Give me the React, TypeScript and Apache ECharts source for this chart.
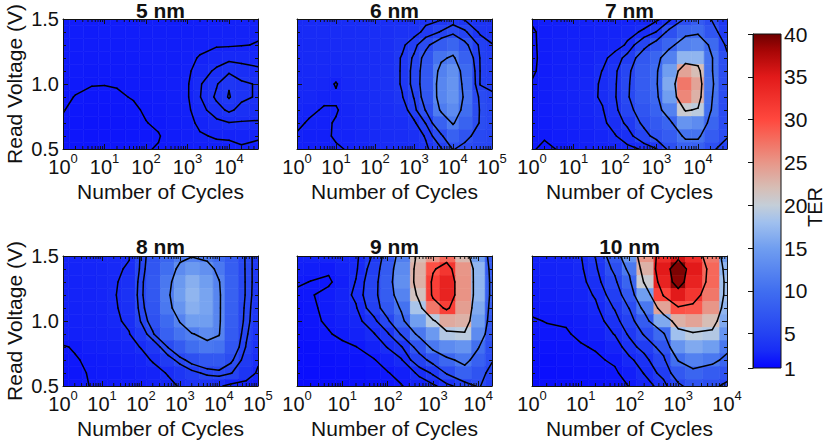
import React, { useEffect, useRef } from 'react';
import * as echarts from 'echarts';

// ---------------- data ----------------
const CYCLES = [1, 2, 5, 10, 20, 50, 100, 200, 500, 1000, 2000, 5000, 10000, 20000, 50000, 100000];
const VOLTAGES = [1.5, 1.4, 1.3, 1.2, 1.1, 1.0, 0.9, 0.8, 0.7, 0.6, 0.5]; // rows, top to bottom
const TITLES = ['5 nm', '6 nm', '7 nm', '8 nm', '9 nm', '10 nm'];
const X_MAX = [50000, 100000, 50000, 100000, 20000, 10000];

const TER_5NM = [
  [2.2, 2.2, 2.2, 2.2, 2.2, 2.2, 2.25, 2.25, 2.25, 2.25, 2.3, 2.35, 2.4, 2.45, 2.4],
  [2.2, 2.2, 2.15, 2.2, 2.2, 2.2, 2.25, 2.25, 2.25, 2.25, 2.3, 2.4, 2.45, 2.48, 2.45],
  [2.15, 2.15, 2.15, 2.15, 2.15, 2.2, 2.2, 2.25, 2.25, 2.3, 2.35, 2.45, 2.45, 2.48, 2.52],
  [2.15, 2.1, 2.1, 2.1, 2.1, 2.15, 2.2, 2.2, 2.25, 2.35, 2.55, 2.75, 2.85, 2.85, 2.8],
  [2.1, 2.1, 2.05, 2.05, 2.08, 2.1, 2.15, 2.2, 2.25, 2.4, 2.75, 3.1, 3.4, 3.2, 3.1],
  [2.05, 2.05, 2.02, 2.01, 2.02, 2.08, 2.1, 2.2, 2.3, 2.45, 2.95, 3.45, 3.95, 3.6, 3.45],
  [2.05, 1.99, 1.9, 1.92, 1.96, 2.02, 2.08, 2.15, 2.3, 2.45, 2.98, 3.6, 4.05, 3.6, 3.45],
  [2.02, 1.9, 1.85, 1.85, 1.9, 1.95, 2.04, 2.1, 2.25, 2.4, 2.8, 3.3, 3.6, 3.35, 3.2],
  [1.95, 1.85, 1.8, 1.8, 1.85, 1.9, 1.99, 2.05, 2.2, 2.35, 2.6, 2.85, 2.98, 2.95, 2.95],
  [1.9, 1.85, 1.8, 1.8, 1.85, 1.88, 1.97, 1.98, 2.15, 2.3, 2.45, 2.55, 2.55, 2.6, 2.55],
  [1.85, 1.8, 1.8, 1.8, 1.85, 1.88, 1.98, 2.02, 2.1, 2.25, 2.3, 2.35, 2.4, 2.45, 2.4],
];
const TER_6NM = [
  [2.9, 2.95, 3.0, 3.0, 3.05, 3.1, 3.2, 3.3, 3.4, 3.5, 3.7, 3.9, 4.2, 3.9, 3.7, 3.6],
  [2.9, 2.95, 2.95, 3.0, 3.0, 3.05, 3.15, 3.3, 3.5, 3.6, 4.3, 5.1, 6.0, 5.2, 3.8, 3.6],
  [2.85, 2.9, 2.9, 2.95, 3.0, 3.05, 3.15, 3.3, 3.8, 4.6, 6.0, 8.0, 9.0, 7.0, 4.7, 4.05],
  [2.85, 2.9, 2.9, 2.9, 2.95, 3.0, 3.1, 3.3, 4.1, 5.2, 7.2, 10.5, 11.5, 8.5, 4.9, 4.5],
  [2.8, 2.85, 2.85, 2.8, 2.9, 3.0, 3.1, 3.4, 4.1, 5.4, 7.5, 12, 13.5, 9.5, 4.95, 4.6],
  [2.8, 2.8, 2.75, 2.45, 2.85, 2.95, 3.1, 3.4, 4.1, 5.4, 7.6, 12.5, 14, 10, 4.9, 4.6],
  [2.75, 2.75, 2.6, 2.6, 2.8, 2.9, 3.05, 3.35, 3.95, 5.05, 7.4, 12.5, 14, 10.5, 6.0, 5.3],
  [2.7, 2.6, 2.45, 2.45, 2.7, 2.85, 3.0, 3.2, 3.5, 4.6, 6.6, 11.5, 13, 10, 6.3, 5.5],
  [2.6, 2.45, 2.4, 2.55, 2.65, 2.8, 2.95, 3.1, 3.2, 3.8, 5.05, 8.5, 11.3, 8.8, 6.3, 5.5],
  [2.45, 2.35, 2.35, 2.6, 2.6, 2.75, 2.9, 3.0, 3.1, 3.4, 4.1, 6.2, 8.5, 7.0, 5.8, 5.3],
  [2.35, 2.3, 2.35, 2.4, 2.55, 2.7, 2.85, 2.95, 3.05, 3.2, 3.8, 4.9, 6.6, 6.0, 5.4, 5.1],
];
const TER_7NM = [
  [2.1, 2.3, 2.35, 2.4, 2.45, 2.5, 2.55, 2.6, 2.7, 2.8, 3.5, 6.2, 8, 6.05, 4],
  [1.9, 2.2, 2.3, 2.35, 2.4, 2.5, 2.6, 2.8, 3.1, 4.05, 6.6, 9.0, 9.5, 7.2, 4.5],
  [1.85, 2.25, 2.35, 2.4, 2.45, 2.55, 2.7, 3.1, 5.3, 7, 9, 12, 12.5, 9.5, 5.5],
  [1.85, 2.2, 2.35, 2.4, 2.55, 2.8, 3.3, 4.5, 7.5, 9, 12, 17, 17, 10.5, 6.5],
  [1.9, 2.2, 2.35, 2.45, 2.6, 3.02, 3.7, 5.5, 8, 9.5, 15, 24, 22, 10.5, 6.5],
  [2.05, 2.25, 2.4, 2.5, 2.7, 3.1, 3.8, 5.7, 8, 9.6, 16, 27, 24, 10.8, 6.5],
  [2.1, 2.25, 2.4, 2.5, 2.75, 3.1, 3.85, 5.8, 7.8, 9.2, 15, 26, 23, 10.5, 6.3],
  [2.1, 2.2, 2.35, 2.45, 2.7, 2.95, 3.6, 5.3, 7.2, 8.6, 12, 20.5, 19.5, 10.2, 6.1],
  [2.05, 2.15, 2.3, 2.4, 2.6, 2.85, 3.3, 4.3, 6.5, 7.6, 9, 14, 13, 9, 6.2],
  [2.05, 2.05, 2.2, 2.3, 2.45, 2.65, 2.95, 3.4, 5.2, 6.8, 8, 10.5, 10.5, 8, 6.2],
  [2.05, 1.9, 2.05, 2.2, 2.35, 2.5, 2.65, 2.8, 3.1, 3.95, 6.5, 8.5, 8.5, 6.5, 5.0],
];
const TER_8NM = [
  [2.6, 2.65, 2.7, 2.75, 2.85, 2.95, 5.2, 7, 9, 11, 11.8, 11, 9.5, 8, 5.8, 4.2],
  [2.55, 2.6, 2.65, 2.7, 2.85, 3.1, 5.3, 7.3, 10, 13, 14.5, 13.5, 11, 8.2, 5.8, 4.2],
  [2.5, 2.55, 2.6, 2.7, 2.85, 3.4, 5.6, 7.6, 11, 14.5, 16.5, 15, 12.2, 8.5, 5.8, 4.2],
  [2.45, 2.5, 2.55, 2.65, 2.9, 3.5, 5.7, 7.5, 11.5, 15, 17, 15.5, 12.5, 8.5, 5.8, 4.1],
  [2.4, 2.45, 2.5, 2.6, 2.85, 3.4, 5.5, 7.2, 11, 14, 16.5, 15.5, 12.5, 8.4, 5.6, 4.0],
  [2.35, 2.4, 2.45, 2.55, 2.8, 3.2, 5.1, 6.7, 9.5, 12.2, 15, 15, 12.5, 8.2, 5.5, 3.9],
  [2.3, 2.35, 2.4, 2.45, 2.6, 2.95, 4.2, 5.8, 8.5, 10.5, 11.8, 13, 12.2, 7.8, 5.2, 3.7],
  [1.95, 2.05, 2.3, 2.35, 2.45, 2.65, 3.05, 4.0, 6.1, 7.8, 10, 11, 10.5, 7.3, 4.9, 3.5],
  [1.8, 1.95, 2.1, 2.15, 2.25, 2.4, 2.6, 3.1, 4.4, 5.5, 6.6, 7.5, 7.5, 6.3, 4.4, 3.2],
  [1.7, 1.85, 2.05, 2.1, 2.15, 2.25, 2.4, 2.55, 3.1, 3.9, 4.6, 5.3, 5.6, 5.1, 3.8, 2.8],
  [1.6, 1.75, 2.02, 2.05, 2.1, 2.15, 2.2, 2.4, 2.7, 3.1, 3.6, 3.6, 3.2, 2.6, 2.45, 2.2],
];
const TER_9NM = [
  [2.4, 2.5, 2.6, 2.75, 2.8, 4.2, 7.2, 11.7, 22, 25, 28, 22.5, 15, 7.5],
  [2.3, 2.25, 2.1, 2.5, 2.85, 4.7, 7.8, 12.9, 23, 29.5, 32, 25, 17, 8],
  [2.1, 1.98, 1.9, 2.3, 3.05, 5.1, 8.2, 13.4, 23, 31, 34, 25.2, 17, 8.5],
  [1.85, 1.95, 2.2, 2.6, 3.2, 5.25, 8.05, 12.2, 21.5, 31, 34, 25.2, 17, 8.5],
  [1.75, 1.9, 2.15, 2.5, 2.9, 4.8, 7.4, 10.4, 18.5, 27, 31, 24.4, 16, 8],
  [1.7, 1.85, 2.1, 2.35, 2.7, 3.6, 5.6, 9.0, 15, 19.3, 23.5, 23, 15, 7.5],
  [1.65, 1.75, 1.95, 2.15, 2.45, 2.95, 3.8, 6.2, 11, 14.5, 19, 19.5, 13, 7],
  [1.55, 1.6, 1.75, 1.85, 1.98, 2.45, 3.05, 3.85, 7.0, 11, 13, 14, 10.2, 6.5],
  [1.5, 1.5, 1.6, 1.7, 1.8, 1.95, 2.4, 2.9, 5.0, 6.8, 9.2, 11, 8.5, 6.2],
  [1.45, 1.45, 1.5, 1.6, 1.7, 1.82, 1.95, 2.3, 3.2, 4.2, 6.2, 8.5, 7.0, 5.2],
  [1.4, 1.4, 1.45, 1.5, 1.6, 1.7, 1.8, 1.95, 2.5, 2.8, 3.5, 4.9, 6.3, 4.5],
];
const TER_10NM = [
  [2.5, 2.6, 2.7, 2.95, 4.05, 7.5, 14, 25, 33, 36, 33, 27, 15],
  [2.4, 2.5, 2.6, 2.85, 3.7, 6.5, 11, 23, 35, 39.5, 35, 28, 17],
  [2.3, 2.4, 2.5, 2.75, 3.4, 5.5, 9, 20.5, 34, 39, 34, 28, 18],
  [2.2, 2.3, 2.4, 2.6, 3.1, 4.7, 7.5, 15, 30.5, 35, 32, 27, 18],
  [2.1, 2.15, 2.25, 2.4, 2.8, 4.1, 6.1, 11, 24, 29.5, 29, 25, 17],
  [1.95, 2.02, 2.05, 2.25, 2.6, 3.5, 5, 8, 16, 23, 24, 22, 16],
  [1.85, 1.9, 1.95, 2.1, 2.35, 3.05, 4.2, 6.2, 9.5, 18, 19.5, 19, 14],
  [1.7, 1.75, 1.8, 1.95, 2.05, 2.5, 3.5, 4.5, 7, 14, 16, 15, 11],
  [1.6, 1.6, 1.7, 1.8, 1.9, 2.1, 2.8, 3.5, 5.5, 10.2, 12, 11, 9],
  [1.5, 1.5, 1.6, 1.7, 1.8, 1.9, 2.3, 3.05, 4.5, 7.5, 9, 8, 7],
  [1.4, 1.45, 1.5, 1.6, 1.7, 1.8, 2.02, 2.5, 3.5, 5.5, 7, 6.5, 5.5],
];

const LEVELS_5NM = [2, 2.5, 3, 3.5, 4];
const LEVELS_6NM = [2.5, 4, 5, 6.5, 11];
const LEVELS_7NM = [2, 3, 4, 6, 10, 20];
const LEVELS_8NM = [2, 3, 5, 6, 12];
const LEVELS_9NM = [2, 3, 4, 6, 10, 20, 30];
const LEVELS_10NM = [2, 3, 4, 6, 10, 20, 30, 37];

const COLORBAR_TICKS = [1, 5, 10, 15, 20, 25, 30, 35, 40];
const TER_MIN = 1;
const TER_MAX = 40;
// value, r, g, b
const CMAP_STOPS = [
  [1, 6, 6, 255],
  [3, 24, 44, 246],
  [5, 36, 66, 242],
  [10, 64, 110, 240],
  [15, 112, 158, 240],
  [18, 160, 192, 238],
  [20, 196, 206, 216],
  [22, 214, 190, 182],
  [25, 232, 150, 136],
  [28, 246, 104, 90],
  [30, 255, 72, 62],
  [35, 226, 26, 26],
  [38, 168, 6, 6],
  [40, 110, 0, 0],
];

// ---------------- layout / style ----------------
const FONT = '"Liberation Sans", Arial, Helvetica, sans-serif';
const INK = '#111';
const GRID_LEFT = [63, 297, 532];
const GRID_TOP = [19, 256];
const GRID_W = 195;
const GRID_H = 130;
const CB = { left: 753, top: 34, width: 28, height: 334 };

function colorFor(v: number): string {
  const s = CMAP_STOPS;
  const f = (a: number[]) => `rgb(${Math.round(a[1])},${Math.round(a[2])},${Math.round(a[3])})`;
  if (v <= s[0][0]) return f(s[0]);
  for (let k = 0; k < s.length - 1; k++) {
    const a = s[k];
    const b = s[k + 1];
    if (v <= b[0]) {
      const t = (v - a[0]) / (b[0] - a[0]);
      return f([v, a[1] + t * (b[1] - a[1]), a[2] + t * (b[2] - a[2]), a[3] + t * (b[3] - a[3])]);
    }
  }
  return f(s[s.length - 1]);
}

function buildCells(m: number[][]) {
  const n = m[0].length;
  const lx = CYCLES.slice(0, n).map((c) => Math.log10(c));
  const out: number[][] = [];
  for (let r = 0; r < m.length; r++) {
    for (let c = 0; c < n; c++) {
      const lo = c === 0 ? lx[0] - (lx[1] - lx[0]) / 2 : (lx[c - 1] + lx[c]) / 2;
      const hi = c === n - 1 ? lx[c] + (lx[c] - lx[c - 1]) / 2 : (lx[c] + lx[c + 1]) / 2;
      const v = VOLTAGES[r];
      out.push([Math.pow(10, lo), Math.pow(10, hi), v - 0.05, v + 0.05, m[r][c]]);
    }
  }
  return out;
}

function buildContours(m: number[][], levels: number[]) {
  const n = m[0].length;
  const lx = CYCLES.slice(0, n).map((c) => Math.log10(c));
  const rows = m.length;
  const ys: number[] = [];
  const z: number[][] = [];
  for (let j = 0; j < rows; j++) {
    ys.push(VOLTAGES[rows - 1 - j]);
    z.push(m[rows - 1 - j]);
  }
  const out: number[][] = [];
  const seg = (p: number[], q: number[]) => [Math.pow(10, p[0]), p[1], Math.pow(10, q[0]), q[1]];
  for (const level of levels) {
    for (let j = 0; j < rows - 1; j++) {
      for (let i = 0; i < n - 1; i++) {
        const c = [
          [lx[i], ys[j], z[j][i]],
          [lx[i + 1], ys[j], z[j][i + 1]],
          [lx[i + 1], ys[j + 1], z[j + 1][i + 1]],
          [lx[i], ys[j + 1], z[j + 1][i]],
        ];
        const hi = c.map((p) => p[2] > level);
        const cross: number[][] = [];
        for (let e = 0; e < 4; e++) {
          const a = c[e];
          const b = c[(e + 1) % 4];
          if (hi[e] !== hi[(e + 1) % 4]) {
            const t = (level - a[2]) / (b[2] - a[2]);
            cross.push([a[0] + t * (b[0] - a[0]), a[1] + t * (b[1] - a[1])]);
          }
        }
        if (cross.length === 2) {
          out.push(seg(cross[0], cross[1]));
        } else if (cross.length === 4) {
          const center = (c[0][2] + c[1][2] + c[2][2] + c[3][2]) / 4;
          const centerHi = center > level;
          if (hi[0] !== centerHi) {
            out.push(seg(cross[3], cross[0]));
            out.push(seg(cross[1], cross[2]));
          } else {
            out.push(seg(cross[0], cross[1]));
            out.push(seg(cross[2], cross[3]));
          }
        }
      }
    }
  }
  return out;
}

function minorTicks(xMax: number) {
  const out: number[][] = [];
  for (let k = 0; k <= 5; k++) {
    for (let mm = 2; mm <= 9; mm++) {
      const v = mm * Math.pow(10, k);
      if (v > 1 && v < xMax) out.push([v, 0.5]);
    }
  }
  return out;
}

const PANELS = [
  { title: TITLES[0], data: TER_5NM, levels: LEVELS_5NM, xMax: X_MAX[0] },
  { title: TITLES[1], data: TER_6NM, levels: LEVELS_6NM, xMax: X_MAX[1] },
  { title: TITLES[2], data: TER_7NM, levels: LEVELS_7NM, xMax: X_MAX[2] },
  { title: TITLES[3], data: TER_8NM, levels: LEVELS_8NM, xMax: X_MAX[3] },
  { title: TITLES[4], data: TER_9NM, levels: LEVELS_9NM, xMax: X_MAX[4] },
  { title: TITLES[5], data: TER_10NM, levels: LEVELS_10NM, xMax: X_MAX[5] },
];

function powLabel(v: number) {
  const l = Math.log10(v);
  const e = Math.round(l);
  if (Math.abs(l - e) > 1e-6) return '';
  return `{b|10}{s|${e}}`;
}

function buildOption() {
  const grids: any[] = [];
  const xAxes: any[] = [];
  const yAxes: any[] = [];
  const series: any[] = [];
  const graphics: any[] = [];
  const lineStyle = { color: INK, width: 1 };

  PANELS.forEach((p, i) => {
    const r = Math.floor(i / 3);
    const c = i % 3;
    grids.push({
      left: GRID_LEFT[c], top: GRID_TOP[r], width: GRID_W, height: GRID_H,
      containLabel: false, outerBoundsMode: 'none',
    });
    const xBase = {
      type: 'log', logBase: 10, gridIndex: i, min: 1, max: p.xMax,
      axisLine: { show: true, onZero: false, lineStyle },
      axisTick: { show: true, inside: true, length: 5, lineStyle },
      splitLine: { show: false },
      minorTick: { show: false },
      z: 10,
    };
    xAxes.push({
      ...xBase, position: 'bottom',
      axisLabel: {
        show: true, margin: 3, formatter: powLabel, showMinLabel: true, showMaxLabel: true,
        rich: {
          b: { fontSize: 20, lineHeight: 30, fontFamily: FONT, color: INK },
          s: { fontSize: 13, lineHeight: 13, verticalAlign: 'top', fontFamily: FONT, color: INK },
        },
      },
      name: 'Number of Cycles', nameLocation: 'middle', nameGap: 32,
      nameTextStyle: { fontSize: 21, fontFamily: FONT, color: INK },
    });
    xAxes.push({ ...xBase, position: 'top', axisLabel: { show: false } });
    const yBase = {
      type: 'value', gridIndex: i, min: 0.5, max: 1.5, interval: 0.5,
      axisLine: { show: true, onZero: false, lineStyle },
      axisTick: { show: true, inside: true, length: 5, lineStyle },
      minorTick: { show: true, splitNumber: 5, length: 3, lineStyle },
      splitLine: { show: false },
      z: 10,
    };
    yAxes.push({
      ...yBase, position: 'left',
      axisLabel: {
        show: c === 0, margin: 4, fontSize: 20, fontFamily: FONT, color: INK,
        formatter: (v: number) => v.toFixed(1),
      },
      name: c === 0 ? 'Read Voltage (V)' : '',
      nameLocation: 'middle', nameGap: 38,
      nameTextStyle: { fontSize: 21, fontFamily: FONT, color: INK },
    });
    yAxes.push({ ...yBase, position: 'right', axisLabel: { show: false } });

    series.push({
      type: 'custom', xAxisIndex: 2 * i, yAxisIndex: 2 * i, clip: true, silent: true, z: 1,
      encode: { x: [0, 1], y: [2, 3] },
      data: buildCells(p.data),
      renderItem: (params: any, api: any) => {
        const a = api.coord([api.value(0), api.value(3)]);
        const b = api.coord([api.value(1), api.value(2)]);
        const col = colorFor(api.value(4));
        return {
          type: 'rect',
          shape: { x: a[0], y: a[1], width: b[0] - a[0], height: b[1] - a[1] },
          style: { fill: col, stroke: col, lineWidth: 0.6 },
        };
      },
    });
    series.push({
      type: 'custom', xAxisIndex: 2 * i, yAxisIndex: 2 * i, clip: true, silent: true, z: 3,
      encode: { x: [0, 2], y: [1, 3] },
      data: buildContours(p.data, p.levels),
      renderItem: (params: any, api: any) => {
        const a = api.coord([api.value(0), api.value(1)]);
        const b = api.coord([api.value(2), api.value(3)]);
        return {
          type: 'line',
          shape: { x1: a[0], y1: a[1], x2: b[0], y2: b[1] },
          style: { stroke: '#000', lineWidth: 1.5, lineCap: 'round' },
        };
      },
    });
    series.push({
      type: 'custom', xAxisIndex: 2 * i, yAxisIndex: 2 * i, clip: false, silent: true, z: 5,
      encode: { x: 0, y: 1 },
      data: minorTicks(p.xMax),
      renderItem: (params: any, api: any) => {
        const b = api.coord([api.value(0), 0.5]);
        const t = api.coord([api.value(0), 1.5]);
        return {
          type: 'group',
          children: [
            { type: 'line', shape: { x1: b[0], y1: b[1], x2: b[0], y2: b[1] - 3 }, style: { stroke: INK, lineWidth: 1 } },
            { type: 'line', shape: { x1: t[0], y1: t[1], x2: t[0], y2: t[1] + 3 }, style: { stroke: INK, lineWidth: 1 } },
          ],
        };
      },
    });

    graphics.push({
      type: 'text', x: GRID_LEFT[c] + GRID_W / 2, y: r === 0 ? 10 : 246,
      style: {
        text: p.title, font: `bold 21px ${FONT}`, fill: INK,
        textAlign: 'center', textVerticalAlign: 'middle', align: 'center', verticalAlign: 'middle',
      },
    });
  });

  // colorbar
  grids.push({ left: CB.left, top: CB.top, width: CB.width, height: CB.height, containLabel: false, outerBoundsMode: 'none' });
  xAxes.push({ type: 'value', gridIndex: 6, show: false, min: 0, max: 1 });
  yAxes.push({
    type: 'value', gridIndex: 6, position: 'right', min: TER_MIN, max: TER_MAX,
    axisLine: { show: true, lineStyle },
    axisTick: { show: true, inside: true, length: 5, lineStyle, customValues: COLORBAR_TICKS },
    axisLabel: { show: true, margin: 3, fontSize: 21, fontFamily: FONT, color: INK, customValues: COLORBAR_TICKS },
    splitLine: { show: false },
    z: 10,
  });
  const stops = CMAP_STOPS.map((s) => ({
    offset: 1 - (s[0] - TER_MIN) / (TER_MAX - TER_MIN),
    color: `rgb(${s[1]},${s[2]},${s[3]})`,
  })).reverse();
  graphics.push({
    type: 'rect', z: 1,
    shape: { x: CB.left, y: CB.top, width: CB.width, height: CB.height },
    style: {
      fill: { type: 'linear', x: 0, y: 0, x2: 0, y2: 1, colorStops: stops },
      stroke: INK, lineWidth: 1,
    },
  });
  graphics.push({
    type: 'text', x: 815, y: 207, rotation: Math.PI / 2,
    style: {
      text: 'TER', font: `20px ${FONT}`, fill: INK,
      textAlign: 'center', textVerticalAlign: 'middle', align: 'center', verticalAlign: 'middle',
    },
  });

  return {
    animation: false,
    backgroundColor: '#fff',
    grid: grids,
    xAxis: xAxes,
    yAxis: yAxes,
    series,
    graphic: { elements: graphics },
  };
}

export default function App() {
  const ref = useRef<HTMLDivElement>(null);
  useEffect(() => {
    if (!ref.current) return;
    const chart = echarts.init(ref.current, undefined, { renderer: 'svg' });
    chart.setOption(buildOption() as any);
    return () => chart.dispose();
  }, []);
  return (
    <div
      ref={ref}
      style={{ position: 'fixed', left: 0, top: 0, width: 825, height: 441, background: '#fff' }}
    />
  );
}
